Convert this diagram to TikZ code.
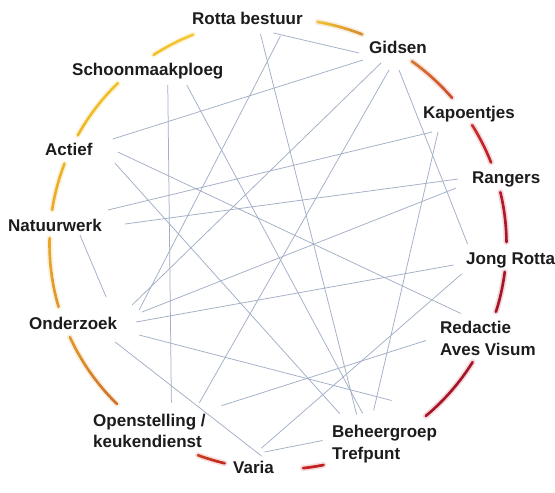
\documentclass[tikz,border=0pt]{standalone}
\usepackage{fontspec}
\setmainfont{Liberation Sans}
\usetikzlibrary{calc}
\definecolor{conncol}{RGB}{162,175,198}
\definecolor{txtcol}{RGB}{28,28,28}
\definecolor{aA}{RGB}{214,140,42}
\definecolor{aB}{RGB}{240,190,50}
\definecolor{bA}{RGB}{245,200,50}
\definecolor{bB}{RGB}{241,192,45}
\definecolor{cA}{RGB}{241,192,45}
\definecolor{cB}{RGB}{237,184,40}
\definecolor{dA}{RGB}{236,180,40}
\definecolor{dB}{RGB}{232,170,40}
\definecolor{eA}{RGB}{232,168,40}
\definecolor{eB}{RGB}{224,150,40}
\definecolor{fA}{RGB}{224,150,40}
\definecolor{fB}{RGB}{205,115,45}
\definecolor{gA}{RGB}{200,62,35}
\definecolor{gB}{RGB}{195,40,35}
\definecolor{hA}{RGB}{200,35,35}
\definecolor{hB}{RGB}{192,30,35}
\definecolor{iA}{RGB}{170,20,40}
\definecolor{iB}{RGB}{165,20,40}
\definecolor{jA}{RGB}{165,20,40}
\definecolor{jB}{RGB}{168,20,40}
\definecolor{kA}{RGB}{170,20,40}
\definecolor{kB}{RGB}{182,25,40}
\definecolor{lA}{RGB}{190,30,40}
\definecolor{lB}{RGB}{200,45,40}
\definecolor{mA}{RGB}{205,75,45}
\definecolor{mB}{RGB}{215,115,45}
\newcommand\GradArc[4]{%
  \draw[line width=6pt, #3, opacity=0.16, line cap=round] plot[domain=#1:#2, samples=24] ({278+228.5*cos(\x)},{244-225.5*sin(\x)});
  \foreach \k in {0,...,9}{%
    \pgfmathsetmacro\ta{#1+(#2-#1)*\k/10}%
    \pgfmathsetmacro\tb{#1+(#2-#1)*(\k+1)/10}%
    \pgfmathtruncatemacro\pc{100-100*\k/9}%
    \draw[arcline, color=#3!\pc!#4] plot[domain=\ta:\tb, samples=4] ({278+228.5*cos(\x)},{244-225.5*sin(\x)});
  }%
}
\begin{document}
\begin{tikzpicture}[x=1pt,y=-1pt,
  lbl/.style={font=\fontsize{17}{21.5}\selectfont\bfseries, text=txtcol, inner sep=0pt, anchor=west, text height=12.2pt, text depth=0pt},
  lbltwo/.style={font=\fontsize{17}{21.5}\selectfont\bfseries, text=txtcol, inner sep=0pt, anchor=west, align=left, text depth=0pt},
  conn/.style={draw=conncol, line width=0.75pt},
  arcline/.style={line width=2.6pt, line cap=round}]
\useasboundingbox (0,0) rectangle (555,493);
\fill[white] (0,0) rectangle (555,493);

% arcs
\GradArc{68.4}{80}{aA}{aB}
\GradArc{111.8}{123}{bA}{bB}
\GradArc{134.5}{151.2}{cA}{cB}
\GradArc{159.1}{171.3}{dA}{dB}
\GradArc{178.5}{196.2}{eA}{eB}
\GradArc{204.4}{225.2}{fA}{fB}
\GradArc{249.5}{256.5}{gA}{gB}
\GradArc{276.3}{281.5}{hA}{hB}
\GradArc{310.3}{328.4}{iA}{iB}
\GradArc{342.5}{352.9}{jA}{jB}
\GradArc{0.5}{13.3}{kA}{kB}
\GradArc{21.2}{31.8}{lA}{lB}
\GradArc{40.4}{54.1}{mA}{mB}

% labels
\node[lbl] (rotta) at (192,18) {Rotta bestuur};
\node[lbl] (gids) at (369,47) {Gidsen};
\node[lbl] (kap) at (423,112) {Kapoentjes};
\node[lbl] (rang) at (472,177) {Rangers};
\node[lbl] (jong) at (466,258) {Jong Rotta};
\node[lbltwo] (red) at (440,338.5) {Redactie\\Aves Visum};
\node[lbltwo] (beh) at (332,442.5) {Beheergroep\\Trefpunt};
\node[lbl] (varia) at (233,467) {Varia};
\node[lbltwo] (open) at (93,430.7) {Openstelling /\\keukendienst};
\node[lbl] (onder) at (29,323) {Onderzoek};
\node[lbl] (natuur) at (8,225) {Natuurwerk};
\node[lbl] (actief) at (45,149) {Actief};
\node[lbl] (schoon) at (72,69) {Schoonmaakploeg};

% connectors
\draw[conn] ($(rotta)+(26,15)$) -- ($(gids)+(-39,6)$);
\draw[conn] ($(rotta)+(33,18)$) -- ($(onder)+(66,-13)$);
\draw[conn] ($(rotta)+(13,16)$) -- ($(beh)+(-28,-28)$);
\draw[conn] ($(schoon)+(20,16)$) -- ($(open)+(22,-28)$);
\draw[conn] ($(schoon)+(39,16)$) -- ($(beh)+(-22,-29)$);
\draw[conn] ($(actief)+(44,-10)$) -- ($(gids)+(-35,13)$);
\draw[conn] ($(actief)+(49,3)$) -- ($(red)+(-27,-25)$);
\draw[conn] ($(actief)+(46,14)$) -- ($(beh)+(-45,-29)$);
\draw[conn] ($(natuur)+(53,-15)$) -- ($(kap)+(-37,20)$);
\draw[conn] ($(natuur)+(70,-1)$) -- ($(rang)+(-48,2)$);
\draw[conn] ($(natuur)+(25,10)$) -- ($(onder)+(33,-26)$);
\draw[conn] ($(onder)+(59,-18)$) -- ($(gids)+(-17,16)$);
\draw[conn] ($(onder)+(69,-11)$) -- ($(rang)+(-50,11)$);
\draw[conn] ($(onder)+(63,-1)$) -- ($(jong)+(-57,7)$);
\draw[conn] ($(onder)+(66,12)$) -- ($(beh)+(7,-42)$);
\draw[conn] ($(onder)+(42,19)$) -- ($(varia)+(8,-11)$);
\draw[conn] ($(gids)+(-9,23)$) -- ($(open)+(50,-28)$);
\draw[conn] ($(gids)+(1,23)$) -- ($(jong)+(-43,-14)$);
\draw[conn] ($(kap)+(-31,20)$) -- ($(beh)+(-11,-32)$);
\draw[conn] ($(open)+(72,-25)$) -- ($(red)+(-62,2)$);
\draw[conn] ($(jong)+(-49,16)$) -- ($(varia)+(8,-19)$);
\draw[conn] ($(varia)+(11,-15)$) -- ($(beh)+(-62,-2)$);
\end{tikzpicture}
\end{document}
